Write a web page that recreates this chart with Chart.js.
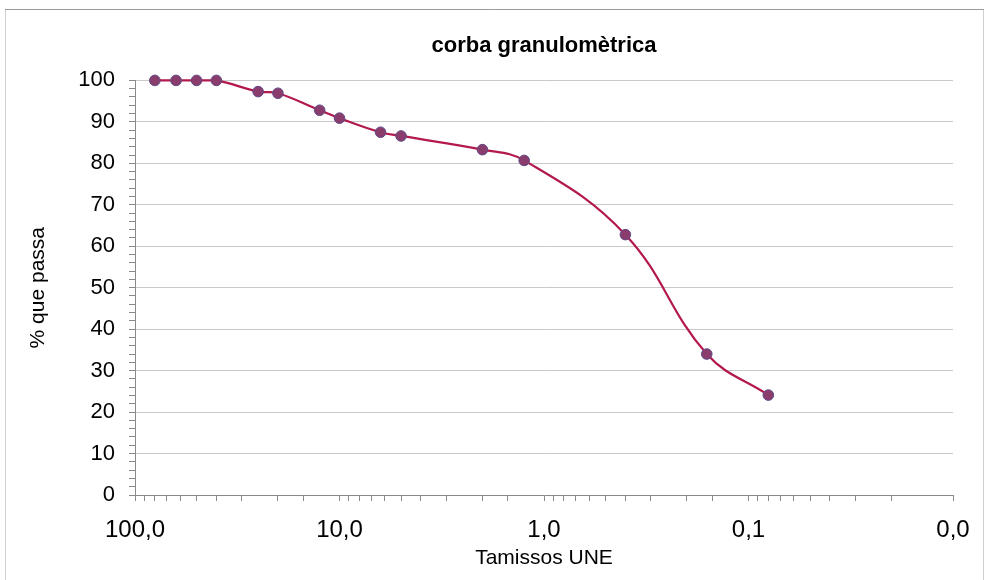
<!DOCTYPE html>
<html>
<head>
<meta charset="utf-8">
<script src="https://cdn.jsdelivr.net/npm/chart.js@4/dist/chart.umd.min.js"></script>
<style>
  html, body { margin: 0; padding: 0; background: #ffffff; }
  #wrap { width: 990px; height: 580px; position: relative; }
</style>
</head>
<body>
<div id="wrap"><canvas id="c" width="990" height="580"></canvas></div>
<script>
// Sieve sizes (mm, UNE series) and % passing
const sieveSizes = [80, 63, 50, 40, 25, 20, 12.5, 10, 6.3, 5, 2, 1.25, 0.4, 0.16, 0.08];
const percentPassing = [100, 100, 100, 100, 97.3, 96.9, 92.8, 90.9, 87.5, 86.6, 83.3, 80.7, 62.8, 34.0, 24.1];
const xRange = [0.01, 100];
const yRange = [0, 100];
const chartTitle = 'corba granulomètrica';
const xTitle = 'Tamissos UNE';
const yTitle = '% que passa';

const FONT = '"Liberation Sans", Arial, sans-serif';

const frame = {
  id: 'frame',
  beforeDraw(chart) {
    const ctx = chart.ctx;
    ctx.save();
    ctx.fillStyle = '#ffffff';
    ctx.fillRect(0, 0, chart.width, chart.height);
    ctx.strokeStyle = '#cfcfcf';
    ctx.lineWidth = 1;
    ctx.strokeRect(5.5, 9.5, 978, 575);
    ctx.strokeStyle = '#9a9a9a';
    ctx.beginPath(); ctx.moveTo(5, 9.5); ctx.lineTo(984, 9.5); ctx.stroke();
    ctx.restore();
  }
};

const isDecade = v => Math.abs(Math.log10(v) - Math.round(Math.log10(v))) < 1e-6;

new Chart(document.getElementById('c'), {
  type: 'line',
  data: {
    datasets: [{
      data: sieveSizes.map((s, i) => ({ x: s, y: percentPassing[i] })),
      borderColor: '#b3184e',
      borderWidth: 2.2,
      tension: 0.4,
      clip: false,
      pointRadius: 5.3,
      pointBackgroundColor: '#8a3d6c',
      pointBorderColor: '#5e4a86',
      pointBorderWidth: 1,
      fill: false
    }]
  },
  options: {
    responsive: false,
    animation: false,
    layout: { padding: { left: 0, right: 37, top: 0, bottom: 0 } },
    plugins: {
      legend: { display: false },
      tooltip: { enabled: false },
      title: {
        display: true,
        text: chartTitle,
        fullSize: false,
        color: '#000',
        font: { family: FONT, size: 22, weight: 'bold', lineHeight: 1.2 },
        padding: { top: 33, bottom: 21 }
      }
    },
    scales: {
      x: {
        type: 'logarithmic',
        reverse: true,
        min: xRange[0],
        max: xRange[1],
        afterFit(scale) { scale.height = 85; },
        border: { display: true, color: '#8a8a8a', width: 1 },
        grid: { drawOnChartArea: false, drawTicks: true, tickLength: 6, tickColor: '#8a8a8a' },
        ticks: {
          autoSkip: false,
          maxRotation: 0,
          padding: 15,
          color: '#000',
          font: { family: FONT, size: 24 },
          callback: v => isDecade(v) ? Number(v).toFixed(1).replace('.', ',') : ''
        },
        title: {
          display: true,
          text: xTitle,
          color: '#000',
          font: { family: FONT, size: 21, lineHeight: 1.2 },
          padding: { top: 0, bottom: 9 }
        }
      },
      y: {
        min: yRange[0],
        max: yRange[1],
        afterFit(scale) { scale.width = 135; },
        border: { display: true, color: '#8a8a8a', width: 1 },
        grid: {
          drawTicks: true,
          tickLength: 6,
          tickColor: '#8a8a8a',
          color: ctx => (ctx.tick && Math.round(ctx.tick.value) % 10 === 0) ? '#c9c9c9' : 'rgba(0,0,0,0)'
        },
        ticks: {
          stepSize: 2,
          autoSkip: false,
          padding: 14,
          color: '#000',
          font: { family: FONT, size: 22 },
          callback: v => (Math.round(v) % 10 === 0) ? String(Math.round(v)) : ''
        },
        title: {
          display: true,
          text: yTitle,
          color: '#000',
          font: { family: FONT, size: 21, lineHeight: 1.2 },
          padding: { top: 26, bottom: 0 }
        }
      }
    }
  },
  plugins: [frame]
});
</script>
</body>
</html>
